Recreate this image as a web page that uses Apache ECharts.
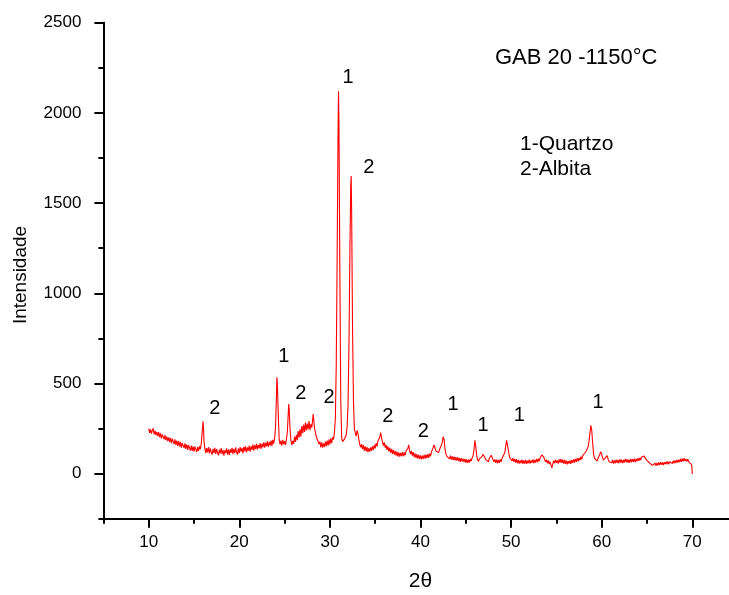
<!DOCTYPE html>
<html>
<head>
<meta charset="utf-8">
<script src="https://cdn.jsdelivr.net/npm/echarts@6/dist/echarts.min.js"></script>
<style>
html,body{margin:0;padding:0;background:#fff;}
#chart{width:729px;height:595px;}
</style>
</head>
<body>
<div id="chart"></div>
<script>
// 2θ (degrees) and intensity
const pattern = [
[10.0,250],[10.1,226],[10.2,246],[10.3,222],[10.4,240],[10.5,252],[10.6,218],[10.7,238],[10.8,214],[10.9,232],
[11.0,208],[11.1,230],[11.2,202],[11.3,224],[11.4,196],[11.5,218],[11.6,212],[11.7,190],[11.8,214],[11.9,186],
[12.0,206],[12.1,180],[12.2,202],[12.3,176],[12.4,198],[12.5,170],[12.6,194],[12.7,186],[12.8,164],[12.9,190],
[13.0,160],[13.1,184],[13.2,154],[13.3,180],[13.4,152],[13.5,176],[13.6,144],[13.7,170],[13.8,162],[13.9,142],
[14.0,168],[14.1,138],[14.2,162],[14.3,132],[14.4,158],[14.5,148],[14.6,128],[14.7,156],[14.8,126],[14.9,152],
[15.0,122],[15.1,150],[15.2,136],[15.3,120],[15.4,148],[15.5,126],[15.6,152],[15.7,136],[15.8,165],[15.9,230],
[16.0,290],[16.05,250],[16.1,180],[16.2,140],[16.3,114],[16.4,142],[16.5,118],[16.6,148],[16.7,112],[16.8,140],
[16.9,120],[17.0,106],[17.1,138],[17.2,114],[17.3,144],[17.4,110],[17.5,136],[17.6,116],[17.7,102],[17.8,134],
[17.9,112],[18.0,142],[18.1,108],[18.2,132],[18.3,100],[18.4,130],[18.5,114],[18.6,140],[18.7,106],[18.8,134],
[18.9,104],[19.0,136],[19.1,116],[19.2,144],[19.3,108],[19.4,138],[19.5,114],[19.6,146],[19.7,118],[19.8,106],
[19.9,140],[20.0,114],[20.1,148],[20.2,122],[20.3,142],[20.4,112],[20.5,150],[20.6,124],[20.7,152],[20.8,118],
[20.9,146],[21.0,128],[21.1,156],[21.2,122],[21.3,152],[21.4,132],[21.5,162],[21.6,128],[21.7,158],[21.8,136],
[21.9,166],[22.0,134],[22.1,160],[22.2,142],[22.3,170],[22.4,138],[22.5,166],[22.6,146],[22.7,174],[22.8,144],
[22.9,172],[23.0,152],[23.1,180],[23.2,148],[23.3,176],[23.4,156],[23.5,184],[23.6,154],[23.7,188],[23.8,166],
[23.9,200],[24.0,260],[24.1,430],[24.15,534],[24.2,500],[24.3,330],[24.4,190],[24.5,162],[24.6,184],[24.7,156],
[24.8,188],[24.9,164],[25.0,180],[25.1,158],[25.2,192],[25.3,230],[25.4,330],[25.45,386],[25.5,360],[25.6,250],
[25.7,185],[25.8,158],[25.9,182],[26.0,166],[26.1,206],[26.2,176],[26.3,216],[26.4,186],[26.5,236],[26.6,200],
[26.7,246],[26.8,206],[26.9,264],[27.0,224],[27.1,272],[27.2,232],[27.3,284],[27.4,240],[27.5,278],[27.6,246],
[27.7,292],[27.8,242],[27.9,274],[28.0,256],[28.1,300],[28.15,330],[28.2,310],[28.3,250],[28.4,230],[28.5,205],
[28.6,215],[28.7,178],[28.8,164],[28.9,178],[29.0,146],[29.1,174],[29.2,144],[29.3,168],[29.4,148],[29.5,178],
[29.6,152],[29.7,184],[29.8,156],[29.9,190],[30.0,162],[30.1,196],[30.2,170],[30.3,202],[30.4,190],[30.5,230],
[30.6,300],[30.7,600],[30.8,1200],[30.9,1900],[30.95,2120],[31.0,1950],[31.1,1100],[31.2,400],[31.3,200],[31.4,178],
[31.5,174],[31.6,192],[31.7,200],[31.8,215],[31.9,260],[32.0,380],[32.1,700],[32.2,1200],[32.3,1600],[32.35,1650],
[32.4,1450],[32.5,800],[32.6,400],[32.7,250],[32.8,226],[32.9,208],[33.0,240],[33.1,222],[33.2,188],[33.3,162],
[33.4,146],[33.5,164],[33.6,136],[33.7,158],[33.8,128],[33.9,152],[34.0,124],[34.1,148],[34.2,120],[34.3,142],
[34.4,122],[34.5,146],[34.6,126],[34.7,152],[34.8,132],[34.9,160],[35.0,140],[35.1,170],[35.2,152],[35.3,180],
[35.4,170],[35.5,202],[35.6,228],[35.7,200],[35.8,176],[35.9,156],[36.0,174],[36.1,144],[36.2,160],[36.3,132],
[36.4,152],[36.5,124],[36.6,144],[36.7,116],[36.8,138],[36.9,110],[37.0,132],[37.1,106],[37.2,126],[37.3,100],
[37.4,122],[37.5,96],[37.6,118],[37.7,94],[37.8,116],[37.9,98],[38.0,120],[38.1,96],[38.2,118],[38.3,102],
[38.4,126],[38.5,116],[38.6,140],[38.7,160],[38.8,126],[38.9,108],[39.0,126],[39.1,100],[39.2,120],[39.3,92],
[39.4,112],[39.5,88],[39.6,108],[39.7,84],[39.8,104],[39.9,82],[40.0,102],[40.1,80],[40.2,100],[40.3,82],
[40.4,104],[40.5,84],[40.6,106],[40.7,86],[40.8,108],[40.9,88],[41.0,112],[41.1,96],[41.2,120],[41.3,132],
[41.4,145],[41.5,160],[41.6,150],[41.7,126],[41.8,116],[41.9,128],[42.0,118],[42.1,134],[42.2,140],[42.3,158],
[42.4,175],[42.5,205],[42.6,190],[42.7,140],[42.8,110],[42.9,98],[43.0,90],[43.1,104],[43.2,82],[43.3,100],
[43.4,78],[43.5,96],[43.6,76],[43.7,94],[43.8,74],[43.9,92],[44.0,72],[44.1,90],[44.2,70],[44.3,88],
[44.4,66],[44.5,86],[44.6,68],[44.7,84],[44.8,64],[44.9,82],[45.0,62],[45.1,80],[45.2,60],[45.3,78],
[45.4,62],[45.5,82],[45.6,70],[45.7,88],[45.8,100],[45.9,130],[46.0,185],[46.1,150],[46.2,100],[46.3,80],
[46.4,68],[46.5,82],[46.6,72],[46.7,90],[46.8,96],[46.9,108],[47.0,104],[47.1,90],[47.2,78],[47.3,70],
[47.4,84],[47.5,66],[47.6,86],[47.7,90],[47.8,102],[47.9,96],[48.0,78],[48.1,66],[48.2,80],[48.3,60],
[48.4,78],[48.5,58],[48.6,76],[48.7,60],[48.8,80],[48.9,66],[49.0,86],[49.1,78],[49.2,96],[49.3,116],
[49.4,150],[49.5,185],[49.55,190],[49.6,175],[49.7,130],[49.8,100],[49.9,84],[50.0,94],[50.1,72],[50.2,86],
[50.3,66],[50.4,82],[50.5,62],[50.6,80],[50.7,58],[50.8,76],[50.9,56],[51.0,74],[51.1,58],[51.2,78],
[51.3,54],[51.4,74],[51.5,56],[51.6,76],[51.7,54],[51.8,72],[51.9,58],[52.0,78],[52.1,56],[52.2,74],
[52.3,60],[52.4,80],[52.5,58],[52.6,76],[52.7,62],[52.8,82],[52.9,64],[53.0,84],[53.1,68],[53.2,88],
[53.3,92],[53.4,104],[53.5,108],[53.6,92],[53.7,78],[53.8,66],[53.9,78],[54.0,58],[54.1,74],[54.2,54],
[54.3,66],[54.4,48],[54.5,32],[54.6,54],[54.7,72],[54.8,58],[54.9,78],[55.0,60],[55.1,74],[55.2,56],
[55.3,80],[55.4,62],[55.5,82],[55.6,60],[55.7,78],[55.8,56],[55.9,76],[56.0,54],[56.1,72],[56.2,52],
[56.3,70],[56.4,56],[56.5,74],[56.6,54],[56.7,76],[56.8,60],[56.9,80],[57.0,62],[57.1,82],[57.2,66],
[57.3,86],[57.4,68],[57.5,88],[57.6,74],[57.7,94],[57.8,80],[57.9,100],[58.0,92],[58.1,112],[58.2,110],
[58.3,126],[58.4,130],[58.5,150],[58.6,180],[58.7,225],[58.8,268],[58.85,270],[58.9,240],[59.0,170],[59.1,110],
[59.2,86],[59.3,76],[59.4,88],[59.5,70],[59.6,86],[59.7,88],[59.8,110],[59.9,122],[60.0,112],[60.1,88],
[60.2,76],[60.3,72],[60.4,88],[60.5,98],[60.6,100],[60.7,82],[60.8,68],[60.9,62],[61.0,78],[61.1,60],
[61.2,76],[61.3,56],[61.4,74],[61.5,58],[61.6,78],[61.7,60],[61.8,76],[61.9,58],[62.0,80],[62.1,62],
[62.2,78],[62.3,58],[62.4,76],[62.5,62],[62.6,82],[62.7,64],[62.8,80],[62.9,60],[63.0,78],[63.1,62],
[63.2,82],[63.3,64],[63.4,80],[63.5,66],[63.6,84],[63.7,64],[63.8,82],[63.9,68],[64.0,86],[64.1,72],
[64.2,88],[64.3,76],[64.4,92],[64.5,84],[64.6,96],[64.7,98],[64.8,86],[64.9,78],[65.0,74],[65.1,66],
[65.2,64],[65.3,58],[65.4,54],[65.5,60],[65.6,46],[65.7,56],[65.8,42],[65.9,58],[66.0,44],[66.1,60],
[66.2,46],[66.3,62],[66.4,48],[66.5,64],[66.6,50],[66.7,62],[66.8,48],[66.9,64],[67.0,52],[67.1,66],
[67.2,54],[67.3,68],[67.4,52],[67.5,66],[67.6,56],[67.7,70],[67.8,56],[67.9,72],[68.0,58],[68.1,74],
[68.2,60],[68.3,76],[68.4,62],[68.5,78],[68.6,64],[68.7,82],[68.8,66],[68.9,84],[69.0,68],[69.1,86],
[69.2,70],[69.3,82],[69.4,68],[69.5,80],[69.6,66],[69.7,62],[69.8,68],[69.9,52],[69.95,40],[70.0,-2]
];

// Phase labels placed in data coordinates: [2θ, intensity, text]
const peakLabels = [
[32.0,2198,'1'],[34.3,1700,'2'],[17.3,364,'2'],[24.9,647,'1'],[26.8,442,'2'],[29.9,420,'2'],
[36.4,319,'2'],[40.3,236,'2'],[43.6,381,'1'],[46.9,270,'1'],[50.9,325,'1'],[59.6,392,'1']
];

const xMajorTicks = [10,20,30,40,50,60,70];
const xMinorTicks = [5,15,25,35,45,55,65];
const yMajorTicks = [0,500,1000,1500,2000,2500];
const yMinorTicks = [-250,250,750,1250,1750,2250];

const xTitle = '2θ';
const yTitle = 'Intensidade';
const sampleTitle = 'GAB 20 -1150°C';
const legendLines = ['1-Quartzo','2-Albita'];

const FONT = "'Liberation Sans', Arial, sans-serif";
const chart = echarts.init(document.getElementById('chart'), null, {renderer:'canvas'});
const plain = v => String(v);
const line = () => ({show:true, onZero:false, lineStyle:{color:'#000', width:2}});
const tick = (vals, len) => ({show:true, customValues:vals, length:len, lineStyle:{color:'#000', width:2}});

chart.setOption({
  animation:false,
  backgroundColor:'#fff',
  grid:{left:103.4, right:0, top:22.7, bottom:76.2},
  xAxis:[
    {type:'value', min:5, max:74.05, position:'bottom', axisLine:line(),
     axisTick:tick(xMajorTicks, 9),
     axisLabel:{show:true, customValues:xMajorTicks, formatter:plain, fontSize:17, color:'#000', fontFamily:FONT, margin:15},
     splitLine:{show:false}},
    {type:'value', min:5, max:74.05, position:'bottom', axisLine:line(),
     axisTick:tick(xMinorTicks, 5),
     axisLabel:{show:false}, splitLine:{show:false}}
  ],
  yAxis:[
    {type:'value', min:-250, max:2500, position:'left', axisLine:line(),
     axisTick:tick(yMajorTicks, 9),
     axisLabel:{show:true, customValues:yMajorTicks, formatter:plain, fontSize:17, color:'#000', fontFamily:FONT, margin:22},
     splitLine:{show:false}},
    {type:'value', min:-250, max:2500, position:'left', axisLine:line(),
     axisTick:tick(yMinorTicks, 5),
     axisLabel:{show:false}, splitLine:{show:false}}
  ],
  series:[
    {type:'line', xAxisIndex:0, yAxisIndex:0, data:pattern, showSymbol:false, symbol:'none',
     lineStyle:{color:'#ff0000', width:1.1}, silent:true, z:2},
    {type:'scatter', xAxisIndex:0, yAxisIndex:0, symbolSize:1, itemStyle:{color:'rgba(0,0,0,0)'},
     data:peakLabels.map(p=>({value:[p[0],p[1]], name:p[2]})),
     label:{show:true, position:'inside', formatter:'{b}', fontSize:20, color:'#000', fontFamily:FONT,
            textBorderWidth:0, textBorderColor:'transparent', opacity:1},
     silent:true, z:3}
  ],
  graphic:[
    {type:'text', x:420.5, y:581.5,
     style:{text:xTitle, fill:'#000', font:"21px 'Liberation Sans', Arial, sans-serif", align:'center', verticalAlign:'middle'}},
    {type:'text', x:21, y:275, rotation:Math.PI/2,
     style:{text:yTitle, fill:'#000', font:"19px 'Liberation Sans', Arial, sans-serif", align:'center', verticalAlign:'middle'}},
    {type:'text', x:495, y:57.5,
     style:{text:sampleTitle, fill:'#000', font:"22px 'Liberation Sans', Arial, sans-serif", align:'left', verticalAlign:'middle'}},
    {type:'text', x:520, y:144,
     style:{text:legendLines[0], fill:'#000', font:"21px 'Liberation Sans', Arial, sans-serif", align:'left', verticalAlign:'middle'}},
    {type:'text', x:520, y:169,
     style:{text:legendLines[1], fill:'#000', font:"21px 'Liberation Sans', Arial, sans-serif", align:'left', verticalAlign:'middle'}}
  ]
});
</script>
</body>
</html>
